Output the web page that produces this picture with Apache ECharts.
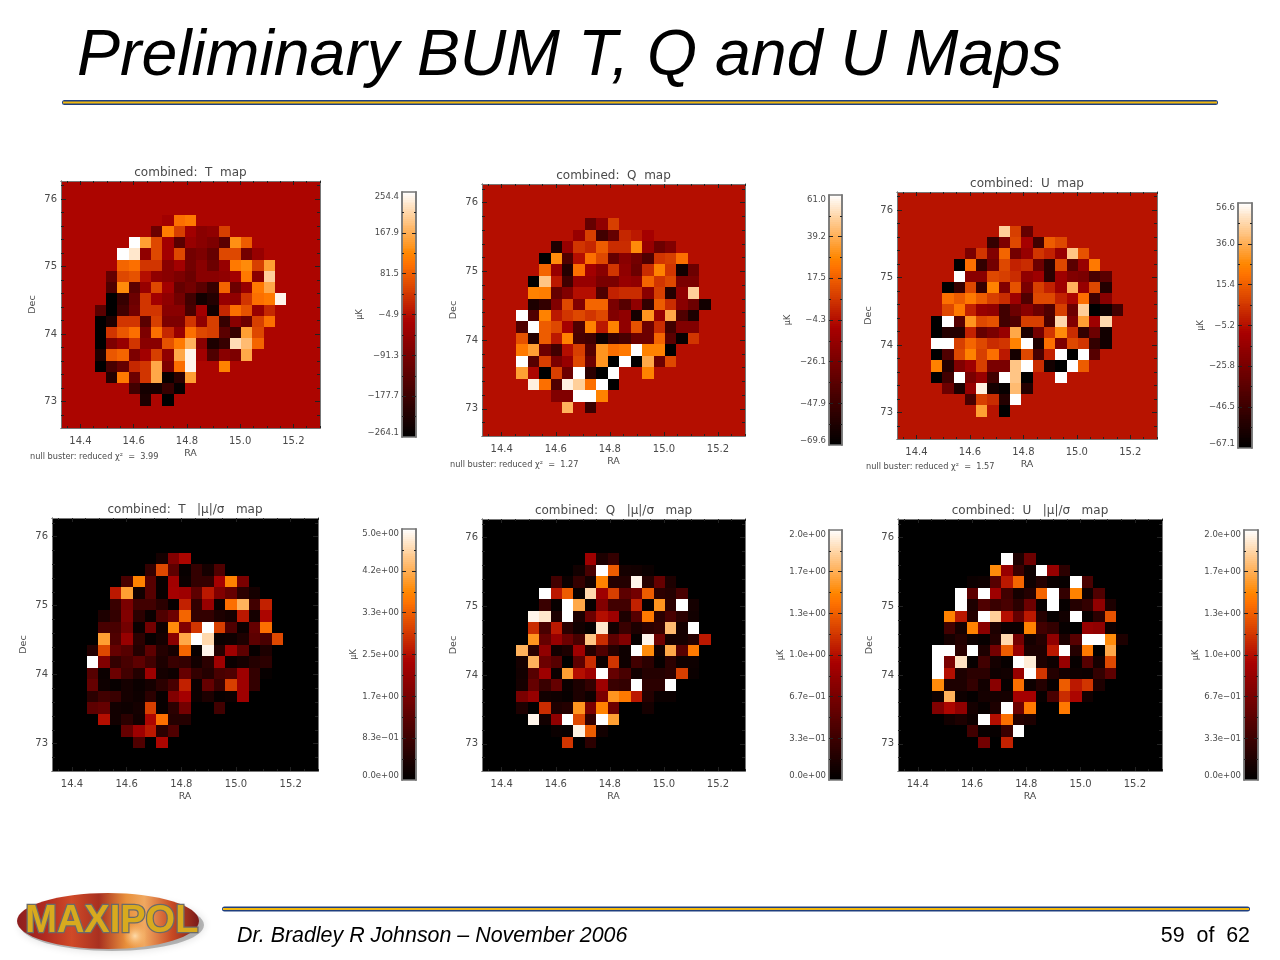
<!DOCTYPE html>
<html>
<head>
<meta charset="utf-8">
<title>Preliminary BUM T, Q and U Maps</title>
<script src="https://cdn.jsdelivr.net/npm/echarts@6/dist/echarts.min.js"></script>
<style>
  html, body { margin: 0; padding: 0; background: #fff; }
  #main { width: 1280px; height: 960px; }
</style>
</head>
<body>
<div id="main"></div>
<script>
// map values are read off the picture as percent of each panel's colour bar
// rows run top to bottom, columns left to right, 17x17 cells around the patch
const tMap = [
  [48,48,48,48,48,48,45,70,72,48,48,48,48,48,48,48,48],
  [48,48,48,48,48,30,73,60,45,38,40,60,48,48,48,48,48],
  [48,48,48,100,80,62,45,25,42,38,35,25,77,66,48,48,48],
  [48,48,100,95,40,62,45,62,32,35,28,62,62,32,42,48,48],
  [48,48,68,70,58,58,38,45,32,38,30,42,72,76,60,80,48],
  [48,28,62,64,50,40,38,35,30,38,38,40,45,72,38,90,48],
  [48,22,76,25,42,62,45,28,32,25,15,68,30,42,72,82,48],
  [48,0,15,30,58,45,40,32,18,5,10,42,40,58,70,72,98],
  [25,0,18,32,58,58,38,38,20,45,5,55,70,64,42,55,48],
  [0,8,58,58,25,60,35,35,58,40,60,15,38,30,60,70,48],
  [0,58,65,70,35,70,55,42,70,62,60,25,15,80,62,48,48],
  [0,35,42,58,38,38,64,72,84,38,8,15,93,86,68,48,48],
  [8,65,68,35,45,60,40,82,98,45,22,38,35,82,48,48,48],
  [0,20,28,55,58,82,35,70,98,48,48,74,48,48,48,48,48],
  [48,10,72,30,58,82,2,12,80,48,48,48,48,48,48,48,48],
  [48,48,48,18,6,6,15,2,48,48,48,48,48,48,48,48,48],
  [48,48,48,48,8,48,0,48,48,48,48,48,48,48,48,48,48]
];
const qMap = [
  [50,50,50,50,50,50,28,40,60,50,50,50,50,50,50,50,50],
  [50,50,50,50,50,42,60,18,28,55,52,46,50,50,50,50,50],
  [50,50,50,8,42,58,55,66,56,56,76,42,30,36,50,50,50],
  [50,50,0,76,22,50,70,62,28,38,32,22,58,60,70,50,50],
  [50,50,68,42,10,70,45,38,58,40,30,56,74,58,5,30,50],
  [50,0,88,52,18,42,42,34,34,42,40,68,58,62,34,34,50],
  [50,74,73,28,36,50,50,22,54,56,56,38,60,10,40,90,50],
  [50,8,14,36,62,36,68,68,34,24,40,14,66,56,38,30,5],
  [100,22,74,52,58,62,58,62,36,40,6,78,42,82,22,8,50],
  [22,100,66,62,46,22,74,52,74,40,64,30,56,18,36,36,50],
  [64,10,66,52,74,20,18,4,16,20,30,30,68,25,2,58,50],
  [72,80,30,18,50,60,24,78,70,72,100,74,74,0,50,50,50],
  [100,24,60,34,42,62,30,78,0,100,0,82,30,62,50,50,50],
  [80,48,0,60,30,100,12,0,100,50,50,74,50,50,50,50,50],
  [50,97,70,22,97,90,70,100,0,50,50,50,50,50,50,50,50],
  [50,50,50,36,36,100,100,74,50,50,50,50,50,50,50,50,50],
  [50,50,50,50,84,50,16,50,50,50,50,50,50,50,50,50,50]
];
const uMap = [
  [51,51,51,51,51,51,90,60,28,51,51,51,51,51,51,51,51],
  [51,51,51,51,51,15,35,62,46,18,66,62,51,51,51,51,51],
  [51,51,51,34,58,36,68,32,42,58,54,42,88,64,51,51,51],
  [51,51,0,70,14,32,62,54,56,30,12,62,25,42,72,51,51],
  [51,51,100,38,38,62,60,56,40,44,12,44,36,34,20,25,51],
  [51,0,15,62,15,74,36,64,34,60,54,44,84,42,62,10,51],
  [51,70,66,72,66,60,56,44,22,62,62,54,48,70,18,38,51],
  [51,62,72,54,42,40,18,30,38,30,22,60,30,90,0,4,18],
  [0,100,24,78,62,64,18,22,60,60,20,92,36,80,44,92,51],
  [0,10,10,54,28,34,42,82,8,32,58,76,56,14,30,5,51],
  [100,100,60,68,62,56,58,74,100,8,70,35,62,58,14,5,51],
  [0,22,62,74,60,70,52,6,62,20,54,100,0,100,24,51,51],
  [74,10,36,44,60,34,34,88,100,56,5,0,100,66,51,51,51],
  [0,18,100,34,42,18,100,88,0,51,51,100,51,51,51,51,51],
  [51,30,8,42,97,6,2,86,10,51,51,51,51,51,51,51,51],
  [51,51,51,20,60,56,10,100,51,51,51,51,51,51,51,51,51],
  [51,51,51,51,80,51,0,51,51,51,51,51,51,51,51,51,51]
];
const tSig = [
  [0,0,0,0,0,0,6,36,48,0,0,0,0,0,0,0,0],
  [0,0,0,0,0,14,62,26,2,14,6,22,0,0,0,0,0],
  [0,0,0,20,74,24,2,45,3,14,14,46,74,34,0,0,0],
  [0,0,52,80,5,24,2,46,44,26,52,36,28,12,6,0,0],
  [0,0,16,34,18,18,12,2,54,14,42,3,70,84,18,54,0],
  [0,8,14,36,12,3,22,30,68,14,14,8,6,52,6,48,0],
  [0,20,20,32,3,32,4,76,36,58,100,60,22,3,28,70,0],
  [0,80,22,42,12,2,6,38,82,100,92,3,4,8,26,20,62],
  [10,62,28,24,10,26,10,6,68,2,98,10,44,26,2,8,0],
  [100,36,14,20,26,18,8,16,14,5,12,44,3,6,10,12,0],
  [24,3,30,18,10,44,6,4,28,14,10,20,22,44,14,2,0],
  [28,4,2,6,3,6,12,20,54,3,28,16,60,44,14,0,0],
  [12,18,16,6,4,12,2,36,46,3,8,2,3,44,0,0,0],
  [26,28,5,4,6,60,2,12,32,0,0,18,0,0,0,0,0],
  [0,50,5,12,5,48,70,10,10,0,0,0,0,0,0,0,0],
  [0,0,0,28,44,52,12,22,0,0,0,0,0,0,0,0,0],
  [0,0,0,0,22,0,48,0,0,0,0,0,0,0,0,0,0]
];
const qSig = [
  [0,0,0,0,0,0,44,8,14,0,0,0,0,0,0,0,0],
  [0,0,0,0,0,5,20,100,66,6,5,3,0,0,0,0,0],
  [0,0,0,18,3,14,6,74,10,10,98,10,28,8,0,0,0],
  [0,0,100,52,66,2,92,44,60,26,32,66,12,10,20,0,0],
  [0,0,16,2,100,82,2,36,18,18,54,2,78,12,100,6,0],
  [0,98,95,8,100,8,30,50,44,8,24,72,12,20,12,5,0],
  [0,56,20,52,12,5,2,95,5,16,8,12,14,86,6,100,0],
  [0,78,28,42,30,20,88,56,26,36,2,98,30,6,6,10,52],
  [84,12,40,5,8,44,10,22,10,4,100,76,5,82,24,72,0],
  [6,84,30,24,0,26,56,4,58,4,18,12,2,12,4,4,0],
  [5,24,44,3,80,50,44,100,28,20,5,10,10,12,60,3,0],
  [6,28,16,28,3,8,14,44,16,14,100,12,12,100,0,0,0],
  [34,42,5,4,2,8,4,34,78,72,52,10,3,3,0,0,0],
  [8,0,56,8,10,78,34,74,30,0,0,6,0,0,0,0,0],
  [0,98,5,40,100,62,14,100,80,0,0,0,0,0,0,0,0],
  [0,0,0,3,2,97,66,5,0,0,0,0,0,0,0,0,0],
  [0,0,0,0,58,0,12,0,0,0,0,0,0,0,0,0,0]
];
const uSig = [
  [0,0,0,0,0,0,100,8,30,0,0,0,0,0,0,0,0],
  [0,0,0,0,0,76,42,16,4,100,42,12,0,0,0,0,0],
  [0,0,0,3,4,24,52,68,4,10,3,2,100,20,0,0,0],
  [0,0,100,26,100,44,18,6,10,68,100,14,74,4,22,0,0],
  [0,0,100,8,22,16,20,12,30,2,100,2,10,14,40,8,0],
  [0,74,52,10,100,90,50,28,52,10,2,5,100,2,12,64,0],
  [0,18,6,74,38,8,3,3,74,18,14,2,0,42,40,4,0],
  [0,6,10,4,2,10,92,32,6,10,40,8,24,100,100,76,8],
  [100,100,12,100,8,32,66,42,8,8,52,100,10,72,0,82,0],
  [100,34,94,2,18,6,2,100,96,8,4,42,2,24,6,62,0],
  [100,50,8,12,12,4,5,42,100,58,10,5,4,3,14,26,0],
  [76,8,8,14,5,38,2,70,4,10,2,66,52,58,8,0,0],
  [4,84,4,1,6,6,6,46,46,2,20,56,48,5,0,0,0],
  [36,48,40,6,2,8,100,30,72,0,0,72,0,0,0,0,0],
  [0,5,8,4,100,50,70,10,8,0,0,0,0,0,0,0,0],
  [0,0,0,18,2,2,16,100,0,0,0,0,0,0,0,0,0],
  [0,0,0,0,32,0,54,0,0,0,0,0,0,0,0,0,0]
];

// colour bar ticks, evenly spaced between the end values
const tTicks = [-264.1, -177.7, -91.3, -4.9, 81.5, 167.9, 254.4];
const qTicks = [-69.6, -47.9, -26.1, -4.3, 17.5, 39.2, 61.0];
const uTicks = [-67.1, -46.5, -25.8, -5.2, 15.4, 36.0, 56.6];
const tSigTicks = [0, 0.8333, 1.6667, 2.5, 3.3333, 4.1667, 5];
const sigTicks = [0, 0.3333, 0.6667, 1, 1.3333, 1.6667, 2];

// axis ticks
const raTicks = [14.4, 14.6, 14.8, 15.0, 15.2];
const decTicks = [73, 74, 75, 76];
const raMinor = [14.35, 14.45, 14.5, 14.55, 14.65, 14.7, 14.75, 14.85, 14.9, 14.95, 15.05, 15.1, 15.15, 15.25, 15.3];
const decMinor = [72.8, 73.2, 73.4, 73.6, 73.8, 74.2, 74.4, 74.6, 74.8, 75.2, 75.4, 75.6, 75.8, 76.2];
const raRange = [14.327, 15.3];
const decRange = [72.605, 76.27];

const nCols = 23, nRows = 22, firstCell = 3;

const panels = [
  {rows: tMap, bg: 48, title: 'combined:  T  map', ticks: tTicks, fmt: 'fix', x0: 61, x1: 320, y0: 181, y1: 428, bx0: 402, bx1: 416, by0: 192, by1: 437, uk: 38, note: '3.99', nx: 30, ny: 458},
  {rows: qMap, bg: 50, title: 'combined:  Q  map', ticks: qTicks, fmt: 'fix', x0: 482, x1: 745, y0: 184, y1: 436, bx0: 829, bx1: 842, by0: 195, by1: 445, uk: 37, note: '1.27', nx: 450, ny: 466},
  {rows: uMap, bg: 51, title: 'combined:  U  map', ticks: uTicks, fmt: 'fix', x0: 897, x1: 1157, y0: 192, y1: 439, bx0: 1238, bx1: 1252, by0: 203, by1: 448, uk: 31, note: '1.57', nx: 866, ny: 468},
  {rows: tSig, bg: 0, title: 'combined:  T   |μ|/σ   map', ticks: tSigTicks, fmt: 'exp', x0: 52, x1: 318, y0: 518, y1: 771, bx0: 402, bx1: 416, by0: 529, by1: 780, uk: 44},
  {rows: qSig, bg: 0, title: 'combined:  Q   |μ|/σ   map', ticks: sigTicks, fmt: 'exp', x0: 482, x1: 745, y0: 519, y1: 771, bx0: 829, bx1: 842, by0: 530, by1: 780, uk: 42},
  {rows: uSig, bg: 0, title: 'combined:  U   |μ|/σ   map', ticks: sigTicks, fmt: 'exp', x0: 898, x1: 1162, y0: 519, y1: 771, bx0: 1244, bx1: 1258, by0: 530, by1: 780, uk: 42}
];

const plotFont = 'DejaVu Sans';
const plotText = '#4a4a4a';
const frameColor = '#777777';

// IDL red temperature colour table
function hot(f) {
  const r = Math.min(1, f / 0.71);
  const g = f < 0.47 ? 0 : (f - 0.47) / 0.53;
  const b = f < 0.75 ? 0 : (f - 0.75) / 0.25;
  return 'rgb(' + Math.round(r * 255) + ',' + Math.round(g * 255) + ',' + Math.round(b * 255) + ')';
}
const hotColors = [];
for (let i = 0; i <= 64; i++) hotColors.push(hot(i / 64));

function fmtTick(v, kind) {
  if (kind === 'fix') return v.toFixed(1).replace('-', '\u2212');
  const s = v.toExponential(1);
  const m = s.match(/^(.*)e([+-])(\d+)$/);
  return m[1] + 'e' + (m[2] === '-' ? '\u2212' : '+') + m[3].padStart(2, '0');
}

// cells snapped to whole pixels, otherwise the canvas leaves seams between them
function renderCell(params, api) {
  const c = api.coord([api.value(0), api.value(1)]);
  const s = api.size([1, 1]);
  const x0 = Math.round(c[0] - s[0] / 2), x1 = Math.round(c[0] + s[0] / 2);
  const y0 = Math.round(c[1] - s[1] / 2), y1 = Math.round(c[1] + s[1] / 2);
  return {
    type: 'rect',
    shape: {x: x0, y: y0, width: x1 - x0, height: y1 - y0},
    style: {fill: api.visual('color')}
  };
}

const grids = [], xAxes = [], yAxes = [], series = [], barSeries = [], visualMaps = [], titles = [], graphics = [];

function tickAxis(pos, range, values, len, extra, frameWidth) {
  return Object.assign({
    type: 'value', gridIndex: grids.length - 1, position: pos,
    min: range[0], max: range[1], z: 5,
    splitLine: {show: false},
    axisLine: {show: true, onZero: false, lineStyle: {color: frameColor, width: frameWidth || 1}},
    axisTick: {show: true, inside: true, length: len, customValues: values, lineStyle: {color: '#222', width: 1}},
    axisLabel: {show: false}
  }, extra || {});
}

panels.forEach(function (p, idx) {
  const lo = p.ticks[0], hi = p.ticks[p.ticks.length - 1];

  // the map
  grids.push({left: p.x0, top: p.y0, width: p.x1 - p.x0, height: p.y1 - p.y0, containLabel: false});
  let g = grids.length - 1;
  const cols = [], rows = [], cells = [];
  for (let c = 0; c < nCols; c++) cols.push(c);
  for (let r = 0; r < nRows; r++) rows.push(r);
  for (let r = 0; r < nRows; r++) {
    for (let c = 0; c < nCols; c++) {
      const row = p.rows[r - firstCell];
      const lvl = row && row[c - firstCell] !== undefined ? row[c - firstCell] : p.bg;
      cells.push([c, r, lo + lvl / 100 * (hi - lo)]);
    }
  }
  const catX = xAxes.length, catY = yAxes.length;
  xAxes.push({type: 'category', gridIndex: g, data: cols, show: false});
  yAxes.push({type: 'category', gridIndex: g, data: rows, inverse: true, show: false});
  series.push({type: 'custom', renderItem: renderCell, xAxisIndex: catX, yAxisIndex: catY, encode: {x: 0, y: 1}, data: cells, silent: true, animation: false, progressive: 0, z: 2});

  const labelStyle = {color: plotText, fontFamily: plotFont, fontSize: 10};
  xAxes.push(tickAxis('bottom', raRange, raTicks, 4, {
    name: 'RA', nameLocation: 'middle', nameGap: 21, nameTextStyle: {color: plotText, fontFamily: plotFont, fontSize: 9.5},
    axisLabel: Object.assign({show: true, margin: 8, customValues: raTicks, formatter: function (v) { return v.toFixed(1); }}, labelStyle)
  }));
  xAxes.push(tickAxis('bottom', raRange, raMinor, 2));
  xAxes.push(tickAxis('top', raRange, raTicks, 4));
  xAxes.push(tickAxis('top', raRange, raMinor, 2));
  yAxes.push(tickAxis('left', decRange, decTicks, 5, {
    name: 'Dec', nameLocation: 'middle', nameGap: 23, nameTextStyle: {color: plotText, fontFamily: plotFont, fontSize: 9.5},
    axisLabel: Object.assign({show: true, margin: 4, customValues: decTicks, formatter: function (v) { return v.toFixed(0); }}, labelStyle)
  }));
  yAxes.push(tickAxis('left', decRange, decMinor, 3));
  yAxes.push(tickAxis('right', decRange, decTicks, 5));
  yAxes.push(tickAxis('right', decRange, decMinor, 3));

  titles.push({
    text: p.title, left: (p.x0 + p.x1) / 2 - 5, top: p.y0 - 19, textAlign: 'center',
    textStyle: {color: plotText, fontFamily: plotFont, fontSize: 12, fontWeight: 'normal'}
  });
  if (p.note) {
    graphics.push({
      type: 'text', left: p.nx, top: p.ny - 5, z: 10, silent: true,
      style: {text: 'null buster: reduced χ²  =  ' + p.note, fill: plotText, font: '8.2px ' + plotFont}
    });
  }

  // the colour bar
  grids.push({left: p.bx0, top: p.by0, width: p.bx1 - p.bx0, height: p.by1 - p.by0, containLabel: false});
  g = grids.length - 1;
  const barY = [], barCells = [];
  for (let i = 0; i < 128; i++) {
    barY.push(i);
    barCells.push([0, i, lo + (i + 0.5) / 128 * (hi - lo)]);
  }
  const barCatX = xAxes.length, barCatY = yAxes.length;
  xAxes.push({type: 'category', gridIndex: g, data: [0], show: false});
  yAxes.push({type: 'category', gridIndex: g, data: barY, show: false});
  barSeries.push({type: 'custom', renderItem: renderCell, xAxisIndex: barCatX, yAxisIndex: barCatY, encode: {x: 0, y: 1}, data: barCells, silent: true, animation: false, progressive: 0, z: 2});

  const barRange = [lo, hi];
  const mids = [];
  for (let i = 0; i < p.ticks.length - 1; i++) mids.push((p.ticks[i] + p.ticks[i + 1]) / 2);
  yAxes.push(tickAxis('left', barRange, p.ticks.slice(1, -1), 4, {
    name: 'μK', nameLocation: 'middle', nameGap: p.uk, nameTextStyle: {color: plotText, fontFamily: plotFont, fontSize: 8},
    axisLabel: {show: true, margin: 3, customValues: p.ticks, color: plotText, fontFamily: plotFont, fontSize: 8.5,
      verticalAlignMinLabel: 'bottom', verticalAlignMaxLabel: 'top',
      formatter: (function (kind) { return function (v) { return fmtTick(v, kind); }; })(p.fmt)}
  }, 1.5));
  yAxes.push(tickAxis('left', barRange, mids, 2, null, 1.5));
  yAxes.push(tickAxis('right', barRange, p.ticks.slice(1, -1), 4, null, 1.5));
  yAxes.push(tickAxis('right', barRange, mids, 2, null, 1.5));
  xAxes.push(tickAxis('bottom', [0, 1], [], 0, null, 1.5));
  xAxes.push(tickAxis('top', [0, 1], [], 0, null, 1.5));

  visualMaps.push({
    type: 'continuous', show: false, min: lo, max: hi, dimension: 2,
    seriesIndex: [idx, idx + panels.length],
    inRange: {color: hotColors}
  });
});

// slide title, footer and rules
titles.push({
  text: 'Preliminary BUM T, Q and U Maps', left: 72, top: 20,
  textStyle: {color: '#000', fontFamily: 'Liberation Sans', fontStyle: 'italic', fontWeight: 'normal', fontSize: 64.4}
});

function rule(x, y, w) {
  return [
    {type: 'rect', left: x, top: y, z: 10, silent: true, shape: {width: w, height: 5, r: 2.5}, style: {fill: '#1f3f7f'}},
    {type: 'rect', left: x + 1, top: y + 1.5, z: 11, silent: true, shape: {width: w - 2, height: 2}, style: {fill: '#f2b90f'}}
  ];
}
graphics.push.apply(graphics, rule(62, 100, 1156));
graphics.push.apply(graphics, rule(222, 906.5, 1028));

graphics.push({
  type: 'text', left: 237, top: 926, z: 10, silent: true,
  style: {text: 'Dr. Bradley R Johnson – November 2006', fill: '#000', font: 'italic 21.4px "Liberation Sans"'}
});
graphics.push({
  type: 'text', right: 30, top: 926, z: 10, silent: true,
  style: {text: '59  of  62', fill: '#000', font: '21.4px "Liberation Sans"'}
});

// MAXIPOL badge
graphics.push({
  type: 'ellipse', z: 9, silent: true, shape: {cx: 112, cy: 925, rx: 92, ry: 26},
  style: {fill: 'rgba(90,90,90,0.4)', shadowBlur: 8, shadowColor: 'rgba(0,0,0,0.35)'}
});
graphics.push({
  type: 'ellipse', z: 10, silent: true, shape: {cx: 108, cy: 921, rx: 91, ry: 28},
  style: {fill: new echarts.graphic.LinearGradient(0, 0, 1, 0, [
    {offset: 0, color: '#8c1e1e'}, {offset: 0.15, color: '#b02a20'}, {offset: 0.3, color: '#d04a28'},
    {offset: 0.45, color: '#a83020'}, {offset: 0.6, color: '#e8903c'}, {offset: 0.7, color: '#f0a860'},
    {offset: 0.85, color: '#c84a24'}, {offset: 1, color: '#7a1a1a'}
  ])}
});
graphics.push({
  type: 'ellipse', z: 10, silent: true, shape: {cx: 135, cy: 936, rx: 50, ry: 12},
  style: {fill: new echarts.graphic.RadialGradient(0.5, 0.5, 0.5, [
    {offset: 0, color: 'rgba(255,225,180,0.9)'}, {offset: 1, color: 'rgba(255,190,110,0)'}
  ])}
});
graphics.push({
  type: 'text', left: 24, top: 901, z: 12, silent: true,
  style: {text: 'MAXIPOL', fill: '#d8aa1e', stroke: '#6a6a6a', lineWidth: 2.5, font: 'bold 38px "Liberation Sans"'}
});

const chart = echarts.init(document.getElementById('main'));
chart.setOption({
  animation: false,
  backgroundColor: '#ffffff',
  title: titles,
  grid: grids,
  xAxis: xAxes,
  yAxis: yAxes,
  visualMap: visualMaps,
  series: series.concat(barSeries),
  graphic: graphics
});
</script>
</body>
</html>
